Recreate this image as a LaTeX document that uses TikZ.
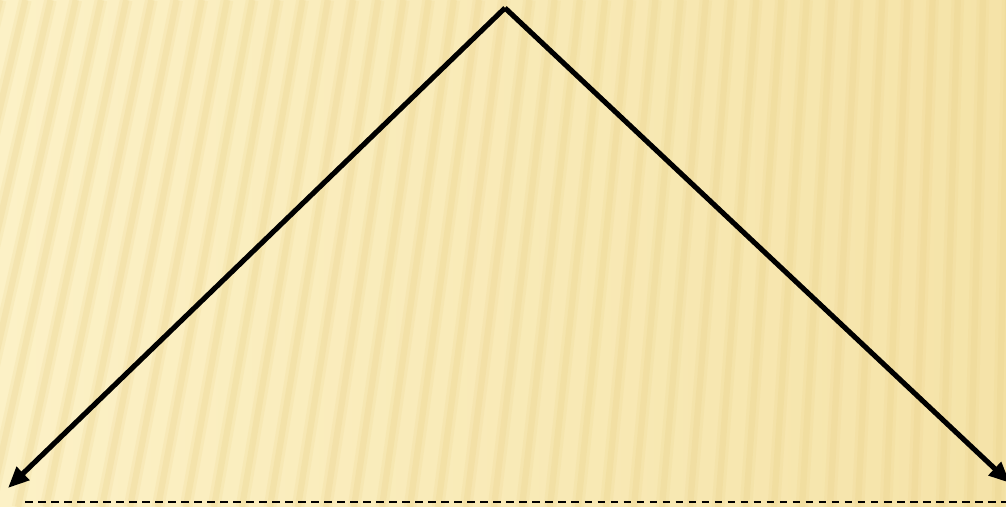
\documentclass[tikz,border=0pt]{standalone}
\usepackage{tikz}
\usetikzlibrary{arrows.meta}
\definecolor{fond}{HTML}{FCF1C6}
\definecolor{fondd}{HTML}{F5E3A8}
\definecolor{raie}{HTML}{EBD38C}
\tikzset{fleche/.style={line width=1.45pt,-{Triangle[length=6pt,width=5pt]}},
	pointille/.style={line width=0.4pt,dash pattern=on 2.2pt off 1.5pt}}

\begin{document}
\begin{tikzpicture}[line cap=butt,line join=miter,x=0.01cm,y=-0.01cm]
		\useasboundingbox (0,0) rectangle (1006,507);
		%fond
		\shade[left color=fond,right color=fondd] (0,0) rectangle (1006,507);
		\clip (0,0) rectangle (1006,507);
		\foreach \i in {-150,-122,...,1040}{
			\pgfmathsetmacro{\d}{110*(1-\i/1100)}
			\draw[raie,opacity=0.18,line width=3.6pt] (\i,507)--(\i+\d,0);
			\draw[raie,opacity=0.25,line width=1.8pt] (\i,507)--(\i+\d,0);
		}
		%sommet et extremites
		\coordinate (haut) at (505,8);
		\coordinate (gauche) at (8,488);
		\coordinate (droite) at (1010,483);
		\coordinate (debut) at (25,502);
		\coordinate (fin) at (1006,502);
		%fleches
		\draw[fleche] (haut)--(gauche);
		\draw[fleche] (haut)--(droite);
		%ligne pointillee
		\draw[pointille] (debut)--(fin);
\end{tikzpicture}
\end{document}
